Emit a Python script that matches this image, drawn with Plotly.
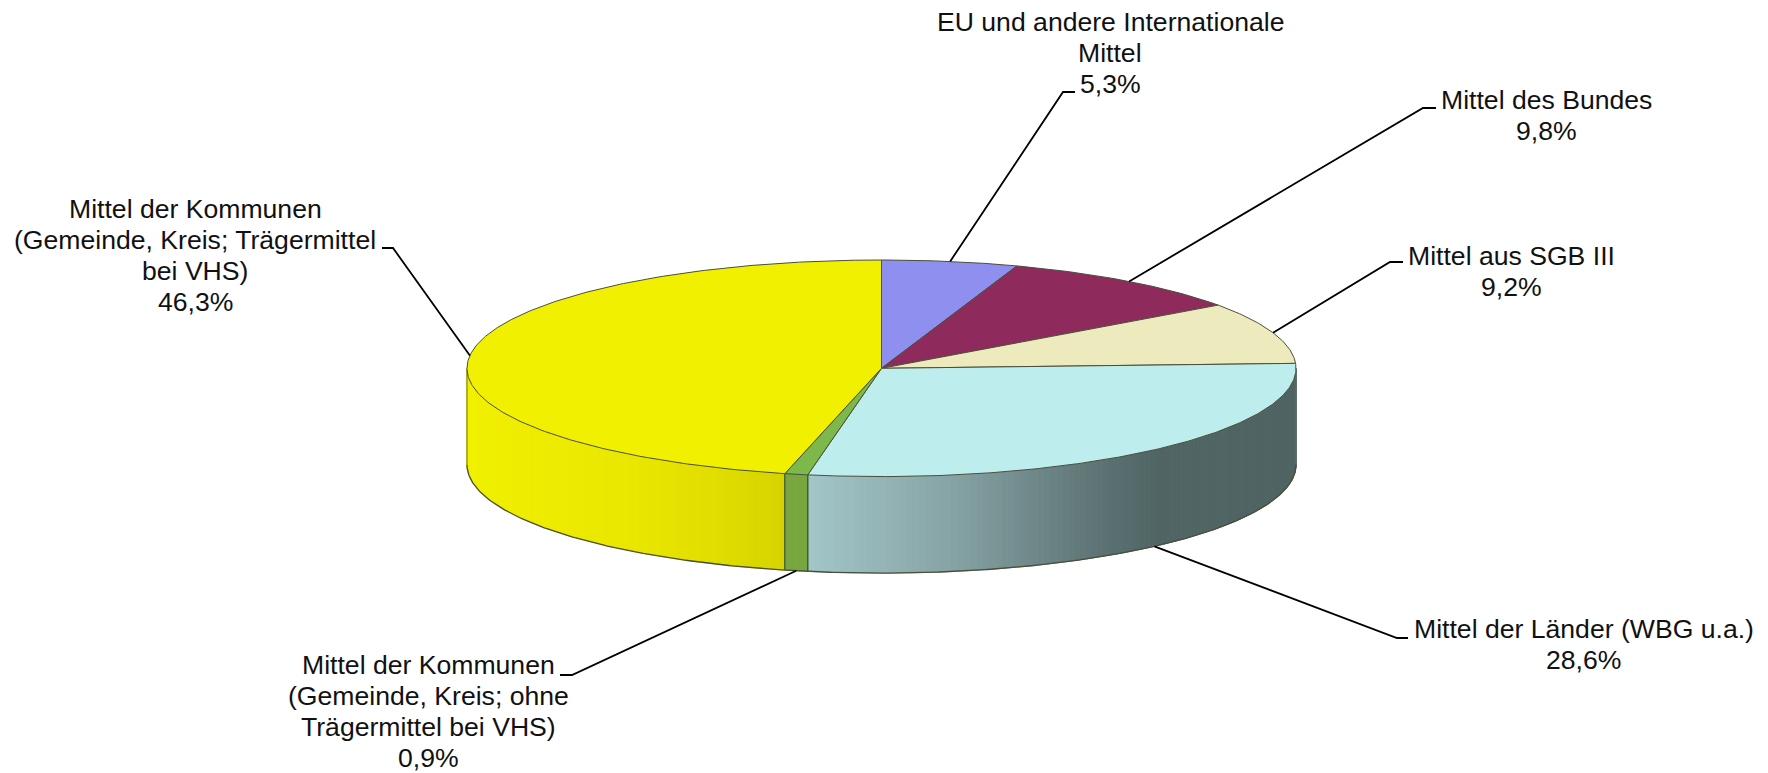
import math
import plotly.graph_objects as go

# ---- data ----
names = [
    "EU und andere Internationale<br>Mittel",
    "Mittel des Bundes",
    "Mittel aus SGB III",
    "Mittel der Länder (WBG u.a.)",
    "Mittel der Kommunen<br>(Gemeinde, Kreis; ohne<br>Trägermittel bei VHS)",
    "Mittel der Kommunen<br>(Gemeinde, Kreis; Trägermittel<br>bei VHS)",
]
values = [5.3, 9.8, 9.2, 28.6, 0.9, 46.3]

# ---- styles / layout ----
top_colors = ["#8F8FEF", "#8F2B5C", "#EDEBBE", "#BDEDED", "#7DB84A", "#F0F000"]
side_stops = {
    3: [(0.0, "#A3C7C9"), (0.3, "#86A3A5"), (0.62, "#5B7071"), (0.72, "#506564"), (1.0, "#4F6463")],
    4: [(0.0, "#78A63F"), (1.0, "#78A63F")],
    5: [(0.0, "#D6D200"), (0.25, "#E2DF00"), (0.55, "#EBE800"), (1.0, "#F0F000")],
}
edge = "#4A4F3A"
W, H = 1768, 773
CX, CY, A, B, DEPTH = 881.5, 368.3, 414.5, 108.3, 96.5
FONT = dict(family="Liberation Sans, Arial, sans-serif", size=26.6, color="#111111")
PITCH = 31.0
BASE_SHIFT = 8.5

# label centre x and first-line baseline y; leader elbow and stub end
label_pos = [(1110, 30), (1546, 108), (1511.5, 264), (1583.5, 637), (428, 673.5), (195, 217)]
elbows = [(1063, 92), (1423, 108), (1390, 262), (1397, 638), (572, 675), (393, 248)]
stubs = [(1075, 92), (1436, 108), (1403, 262), (1408, 638), (560, 675), (382, 248)]
front = [False, False, False, True, True, False]


def pt(share, dy=0.0):
    t = 2 * math.pi * share
    return CX + A * math.sin(t), CY - B * math.cos(t) + dy


def hexrgb(h):
    return tuple(int(h[i:i + 2], 16) for i in (1, 3, 5))


def shade(stops, f):
    for (f0, c0), (f1, c1) in zip(stops, stops[1:]):
        if f0 <= f <= f1:
            k = (f - f0) / (f1 - f0) if f1 > f0 else 0
            a, b = hexrgb(c0), hexrgb(c1)
            return "rgb(%d,%d,%d)" % tuple(round(a[i] + (b[i] - a[i]) * k) for i in range(3))
    return stops[-1][1]


total = sum(values)
starts = [sum(values[:i]) / total for i in range(len(values))]
ends = [sum(values[:i + 1]) / total for i in range(len(values))]

fig = go.Figure()


def poly(xs, ys, fill, line=None, width=1):
    fig.add_trace(go.Scatter(
        x=xs, y=ys, mode="lines", fill="toself", fillcolor=fill,
        line=dict(color=line or fill, width=width), hoverinfo="skip", showlegend=False))


def line(xs, ys, color=edge, width=1):
    fig.add_trace(go.Scatter(
        x=xs, y=ys, mode="lines", line=dict(color=color, width=width),
        hoverinfo="skip", showlegend=False))


# side wall: visible lower half of the rim, shaded in thin strips
for i, stops in side_stops.items():
    s0 = max(starts[i], 0.25)
    s1 = min(ends[i], 0.75)
    n = max(2, int((s1 - s0) * 400))
    for k in range(n):
        a0 = s0 + (s1 - s0) * k / n
        a1 = s0 + (s1 - s0) * (k + 1) / n
        xa, ya = pt(a0)
        xb, yb = pt(a1)
        xm = (xa + xb) / 2
        if i == 3:
            f = (xa - pt(s1)[0]) / (pt(s0)[0] - pt(s1)[0])
        elif i == 5:
            f = (pt(s0)[0] - xm) / (pt(s0)[0] - pt(s1)[0])
        else:
            f = k / n
        col = shade(stops, f)
        poly([xa, xb, xb, xa, xa], [ya, yb, yb + DEPTH, ya + DEPTH, ya], col)

# outline of the wall
bottom = [pt(0.25 + 0.5 * k / 400, DEPTH) for k in range(401)]
line([p[0] for p in bottom], [p[1] for p in bottom], width=1.3)
for s in (0.25, 0.75):
    x, y = pt(s)
    line([x, x], [y, y + DEPTH], color="#6A6F5A")
for s in (ends[3], ends[4]):
    x, y = pt(s)
    line([x, x], [y, y + DEPTH], color="#3C5A3C", width=1.4)

# top face
for i, v in enumerate(values):
    n = max(3, int(v * 6))
    arc = [pt(starts[i] + (ends[i] - starts[i]) * k / n) for k in range(n + 1)]
    xs = [CX] + [p[0] for p in arc] + [CX]
    ys = [CY] + [p[1] for p in arc] + [CY]
    poly(xs, ys, top_colors[i], line=edge, width=1)

# leader lines: rim point at the slice's middle -> elbow -> stub
for i in range(len(values)):
    share = (starts[i] + ends[i]) / 2
    rx, ry = pt(share, DEPTH if front[i] else 0.0)
    line([rx, elbows[i][0], stubs[i][0]], [ry, elbows[i][1], stubs[i][1]], color="#000000", width=1.8)

# labels: one annotation per line so the line pitch is exact
annotations = []
for n, v, p in zip(names, values, label_pos):
    rows = n.split("<br>") + [f"{str(v).replace('.', ',')}%"]
    for j, row in enumerate(rows):
        annotations.append(dict(
            x=p[0], y=p[1] + j * PITCH - BASE_SHIFT, xref="x", yref="y", showarrow=False,
            xanchor="center", yanchor="middle", font=FONT, text=row))

fig.update_layout(
    width=W, height=H, margin=dict(l=0, r=0, t=0, b=0),
    paper_bgcolor="white", plot_bgcolor="white", annotations=annotations,
    xaxis=dict(range=[0, W], visible=False, fixedrange=True),
    yaxis=dict(range=[H, 0], visible=False, fixedrange=True),
)
fig.write_html("out.html", config=dict(displayModeBar=False),
               post_script="document.body.style.margin='0';document.documentElement.style.overflow='hidden';")
